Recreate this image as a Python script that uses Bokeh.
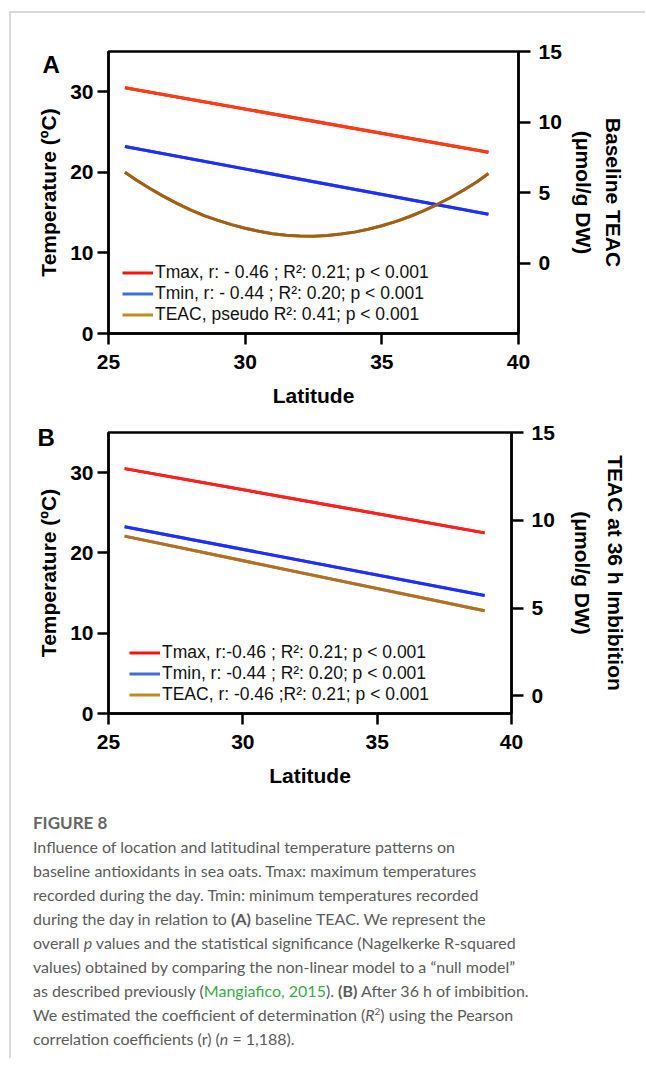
from bokeh.plotting import figure
from bokeh.models import Range1d, LinearAxis, FixedTicker, Div
from bokeh.layouts import column
from bokeh.embed import file_html
from bokeh.resources import INLINE

# ---------------- data ----------------
x_ticks = [25, 30, 35, 40]
temp_ticks = [0, 10, 20, 30]
teac_ticks = [0, 5, 10, 15]

# Panel A
lat_a = [25.6, 38.9]
tmax_a = [30.5, 22.5]
tmin_a = [23.2, 14.8]
teac_a_lat = [25.6, 26.0, 26.5, 27.0, 27.5, 28.0, 28.5, 29.0, 29.5, 30.0, 30.5,
              31.0, 31.5, 32.0, 32.5, 33.0, 33.5, 34.0, 34.5, 35.0, 35.5, 36.0,
              36.5, 37.0, 37.5, 38.0, 38.5, 38.9]
teac_a = [6.43, 5.91, 5.30, 4.74, 4.23, 3.77, 3.36, 3.02, 2.72, 2.47, 2.25,
          2.08, 1.97, 1.91, 1.90, 1.95, 2.05, 2.19, 2.39, 2.64, 2.93, 3.28,
          3.68, 4.13, 4.63, 5.18, 5.78, 6.35]
legend_a = ["Tmax, r: - 0.46 ; R\u00b2: 0.21; p < 0.001",
            "Tmin, r: - 0.44 ; R\u00b2: 0.20; p < 0.001",
            "TEAC, pseudo R\u00b2: 0.41; p < 0.001"]

# Panel B
lat_b = [25.6, 39.0]
tmax_b = [30.5, 22.5]
tmin_b = [23.25, 14.7]
teac_b = [9.1, 4.85]
legend_b = ["Tmax, r:-0.46 ; R\u00b2: 0.21; p < 0.001",
            "Tmin, r: -0.44 ; R\u00b2: 0.20; p < 0.001",
            "TEAC, r: -0.46 ;R\u00b2: 0.21; p < 0.001"]

FONT = "Liberation Sans"


def style_axis(ax, tick_out, std, lab_std):
    ax.axis_line_width = 2.5
    ax.axis_line_color = "black"
    ax.major_tick_line_width = 2.5
    ax.major_tick_line_color = "black"
    ax.minor_tick_line_color = None
    ax.major_tick_in = 0
    ax.major_tick_out = tick_out
    ax.major_label_standoff = std
    ax.major_label_text_font = FONT
    ax.major_label_text_font_style = "bold"
    ax.major_label_text_font_size = "21px"
    ax.major_label_text_color = "black"
    ax.axis_label_text_font = FONT
    ax.axis_label_text_font_style = "bold"
    ax.axis_label_text_font_size = "21px"
    ax.axis_label_text_color = "black"
    ax.axis_label_standoff = lab_std


def make_panel(letter, fw, fh, mbl, mbr, mbt, mbb, teac_lo, right_title,
               lat_lines, tmax, tmin, teac_x, teac_y, legend_labels,
               line_colors, letter_off, legend_loc, r1_std, r2_std):
    p = figure(frame_width=fw, frame_height=fh,
               min_border_left=mbl, min_border_right=mbr,
               min_border_top=mbt, min_border_bottom=mbb,
               x_range=Range1d(25, 40), y_range=Range1d(0, 35),
               output_backend="svg", toolbar_location=None,
               background_fill_color="white", border_fill_color="white",
               outline_line_color="black", outline_line_width=2.5,
               title=letter)
    p.title.align = "left"
    p.title.offset = letter_off[0]
    p.title.standoff = letter_off[1]
    p.title.text_font = FONT
    p.title.text_font_style = "bold"
    p.title.text_font_size = "24px"
    p.title.text_color = "black"

    p.grid.visible = False
    p.extra_y_ranges = {"teac": Range1d(teac_lo, 15)}

    xa = p.xaxis[0]
    xa.ticker = FixedTicker(ticks=x_ticks)
    xa.axis_label = "Latitude"
    style_axis(xa, 11, 10, 12)

    ya = p.yaxis[0]
    ya.ticker = FixedTicker(ticks=temp_ticks)
    ya.axis_label = "Temperature (\u00baC)"
    style_axis(ya, 11, 4, 7)

    r1 = LinearAxis(y_range_name="teac", ticker=FixedTicker(ticks=teac_ticks),
                    axis_label="(\u03bcmol/g DW)")
    style_axis(r1, 12, 8, r1_std)
    p.add_layout(r1, "right")

    r2 = LinearAxis(y_range_name="teac", ticker=FixedTicker(ticks=[]),
                    axis_label=right_title)
    style_axis(r2, 0, 0, r2_std)
    r2.axis_line_color = None
    r2.major_tick_line_color = None
    p.add_layout(r2, "right")

    c_max, c_min, c_teac = line_colors
    leg_cols = ["#ff1010", "#3d6fd6", "#c08c1e"]
    # legend swatches: drawn underneath the visible lines (same data)
    p.line(lat_lines, tmax, line_color=leg_cols[0], line_width=3,
           legend_label=legend_labels[0])
    p.line(lat_lines, tmin, line_color=leg_cols[1], line_width=3,
           legend_label=legend_labels[1])
    p.line(teac_x, teac_y, line_color=leg_cols[2], line_width=3,
           y_range_name="teac", legend_label=legend_labels[2])
    # visible series lines
    p.line(lat_lines, tmax, line_color=c_max, line_width=3)
    p.line(lat_lines, tmin, line_color=c_min, line_width=3)
    p.line(teac_x, teac_y, line_color=c_teac, line_width=3, y_range_name="teac")

    lg = p.legend[0]
    lg.location = legend_loc
    lg.border_line_color = None
    lg.background_fill_alpha = 0
    lg.padding = 0
    lg.margin = 0
    lg.spacing = 0
    lg.label_height = 21
    lg.glyph_height = 21
    lg.glyph_width = 31
    lg.label_standoff = 2
    lg.label_text_font = FONT
    lg.label_text_font_size = "17.5px"
    lg.label_text_color = "#111111"
    return p


pA = make_panel("A", 410, 282, 93, 120, 38, 80, -5, "Baseline TEAC",
                lat_a, tmax_a, tmin_a, teac_a_lat, teac_a, legend_a,
                ("#ff3c16", "#1f2eff", "#a0601c"), (-66, -53), (14, 8), 7, 4)
pB = make_panel("B", 403, 281, 97, 126, 19, 85, -1, "TEAC at 36 h Imbibition",
                lat_b, tmax_b, tmin_b, lat_b, teac_b, legend_b,
                ("#ff1f1f", "#1f2eff", "#b0702a"), (-71, -37), (21, 8), 13, 7)

caption_html = (
    '<div style="font-family:Lato, sans-serif;color:#5b5b5b;font-size:16px;'
    'line-height:24px;padding:8px 0 0 17px;white-space:nowrap;">'
    '<div style="font-weight:bold;color:#666666;font-size:17px;">FIGURE 8</div>'
    'Influence of location and latitudinal temperature patterns on<br>'
    'baseline antioxidants in sea oats. Tmax: maximum temperatures<br>'
    'recorded during the day. Tmin: minimum temperatures recorded<br>'
    'during the day in relation to <b>(A)</b> baseline TEAC. We represent the<br>'
    'overall <i>p</i> values and the statistical significance (Nagelkerke R-squared<br>'
    'values) obtained by comparing the non-linear model to a \u201cnull model\u201d<br>'
    'as described previously (<span style="color:#3aaa49;">Mangiafico, 2015</span>). '
    '<b>(B)</b> After 36 h of imbibition.<br>'
    'We estimated the coefficient of determination (<i>R</i><sup style="font-size:10px;line-height:0;">2</sup>) using the Pearson<br>'
    'correlation coefficients (r) (<i>n</i> = 1,188).'
    '</div>'
)
cap = Div(text=caption_html, width=624, height=250)

layout = column(pA, pB, cap, spacing=0,
                styles={"margin-top": "11px", "margin-left": "9px",
                        "border-top": "2px solid #dadada",
                        "border-left": "2px solid #dadada"})

open("out.html", "w").write(file_html(layout, INLINE))
